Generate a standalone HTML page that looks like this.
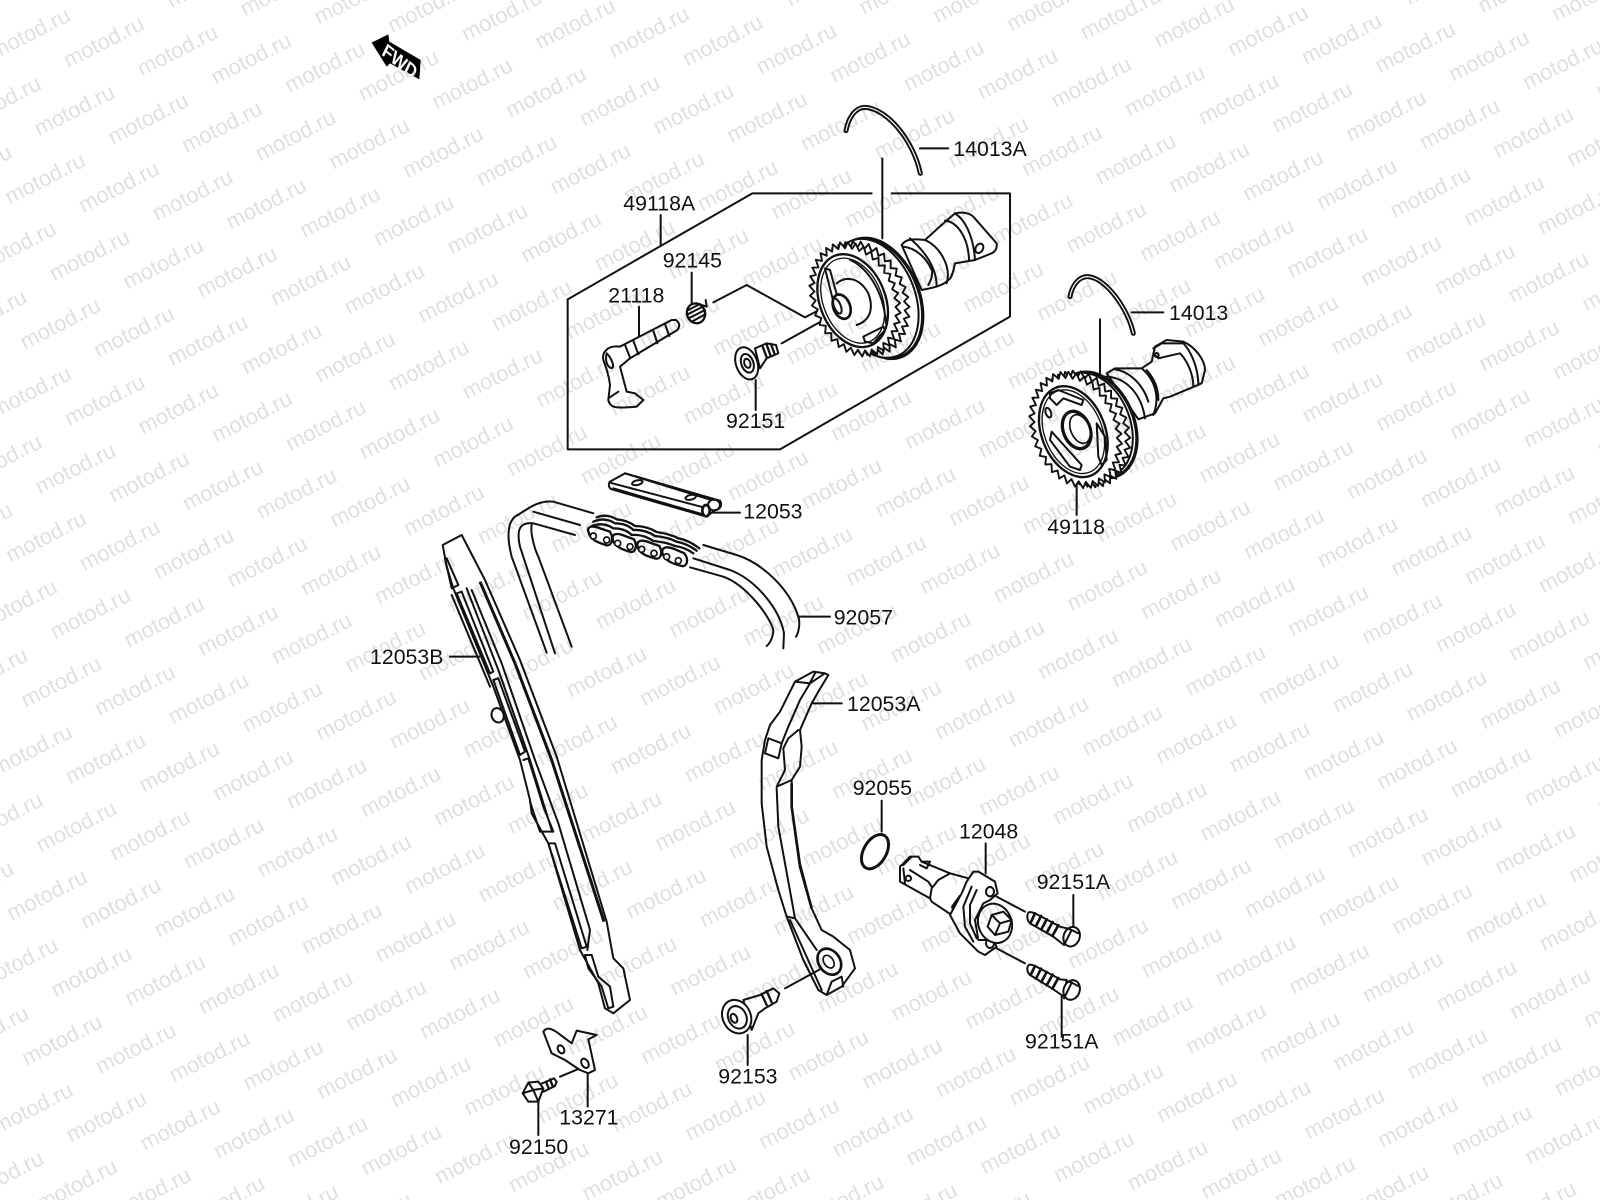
<!DOCTYPE html>
<html><head><meta charset="utf-8"><style>
html,body{margin:0;padding:0;background:#fff;width:1600px;height:1200px;overflow:hidden}
svg{display:block}
.l{fill:none;stroke:#111;stroke-width:6;stroke-linejoin:round;stroke-linecap:round}
.w{fill:#fff;stroke:#111;stroke-width:6;stroke-linejoin:round;stroke-linecap:round}
.t{font:21.3px "Liberation Sans",sans-serif;fill:#111}
.m{font:22px "Liberation Sans",sans-serif;fill:#e0e0e0}
.g{stroke:#111;stroke-width:1.9px;vector-effect:non-scaling-stroke;stroke-linejoin:round}
</style></head><body>
<svg width="1600" height="1200" viewBox="0 0 1600 1200" xmlns="http://www.w3.org/2000/svg">
<defs>
<polygon id="gw" class="g" points="100,0 89,7.8 98.5,17.4 86,23 94,34.2 80.7,37.6 86.6,50 72.9,51 76.6,64.3 62.9,62.9 64.3,76.6 51,72.9 50,86.6 37.6,80.7 34.2,94 23,86 17.4,98.5 7.8,89 0,100 -7.8,89 -17.4,98.5 -23,86 -34.2,94 -37.6,80.7 -50,86.6 -51,72.9 -64.3,76.6 -62.9,62.9 -76.6,64.3 -72.9,51 -86.6,50 -80.7,37.6 -94,34.2 -86,23 -98.5,17.4 -89,7.8 -100,0 -89,-7.8 -98.5,-17.4 -86,-23 -94,-34.2 -80.7,-37.6 -86.6,-50 -72.9,-51 -76.6,-64.3 -62.9,-62.9 -64.3,-76.6 -51,-72.9 -50,-86.6 -37.6,-80.7 -34.2,-94 -23,-86 -17.4,-98.5 -7.8,-89 0,-100 7.8,-89 17.4,-98.5 23,-86 34.2,-94 37.6,-80.7 50,-86.6 51,-72.9 64.3,-76.6 62.9,-62.9 76.6,-64.3 72.9,-51 86.6,-50 80.7,-37.6 94,-34.2 86,-23 98.5,-17.4 89,-7.8"/>
<g id="r">
<text class="m" transform="translate(-221.1,-25.1) rotate(-27)">motod.ru</text><text class="m" transform="translate(-147.4,-16.7) rotate(-27)">motod.ru</text><text class="m" transform="translate(-73.7,-8.4) rotate(-27)">motod.ru</text><text class="m" transform="rotate(-27)">motod.ru</text><text class="m" transform="translate(73.7,8.4) rotate(-27)">motod.ru</text><text class="m" transform="translate(147.4,16.7) rotate(-27)">motod.ru</text><text class="m" transform="translate(221.1,25.1) rotate(-27)">motod.ru</text><text class="m" transform="translate(294.8,33.4) rotate(-27)">motod.ru</text><text class="m" transform="translate(368.5,41.8) rotate(-27)">motod.ru</text><text class="m" transform="translate(442.2,50.1) rotate(-27)">motod.ru</text><text class="m" transform="translate(515.9,58.5) rotate(-27)">motod.ru</text><text class="m" transform="translate(589.6,66.8) rotate(-27)">motod.ru</text><text class="m" transform="translate(663.3,75.2) rotate(-27)">motod.ru</text><text class="m" transform="translate(737,83.5) rotate(-27)">motod.ru</text><text class="m" transform="translate(810.7,91.9) rotate(-27)">motod.ru</text><text class="m" transform="translate(884.4,100.2) rotate(-27)">motod.ru</text><text class="m" transform="translate(958.1,108.6) rotate(-27)">motod.ru</text><text class="m" transform="translate(1031.8,116.9) rotate(-27)">motod.ru</text><text class="m" transform="translate(1105.5,125.3) rotate(-27)">motod.ru</text><text class="m" transform="translate(1179.2,133.6) rotate(-27)">motod.ru</text><text class="m" transform="translate(1252.9,142) rotate(-27)">motod.ru</text><text class="m" transform="translate(1326.6,150.3) rotate(-27)">motod.ru</text><text class="m" transform="translate(1400.3,158.7) rotate(-27)">motod.ru</text><text class="m" transform="translate(1474,167) rotate(-27)">motod.ru</text><text class="m" transform="translate(1547.7,175.4) rotate(-27)">motod.ru</text><text class="m" transform="translate(1621.4,183.7) rotate(-27)">motod.ru</text><text class="m" transform="translate(1695.1,192.1) rotate(-27)">motod.ru</text><text class="m" transform="translate(1768.8,200.4) rotate(-27)">motod.ru</text><text class="m" transform="translate(1842.5,208.8) rotate(-27)">motod.ru</text><text class="m" transform="translate(1916.2,217.1) rotate(-27)">motod.ru</text><text class="m" transform="translate(1989.9,225.5) rotate(-27)">motod.ru</text><text class="m" transform="translate(2063.6,233.8) rotate(-27)">motod.ru</text>
</g></defs>
<rect width="1600" height="1200" fill="#fff"/>

<!-- FWD -->
<g transform="scale(.33333)">
<path d="M1115,128 L1165,103 L1168,125 L1262,180 L1258,238 L1170,190 L1160,200 Z" fill="#000"/>
<text transform="translate(1143,163) rotate(38) skewX(12)" font-family="Liberation Sans,sans-serif" font-size="54" font-weight="bold" fill="#fff">FWD</text>
</g>

<!-- Region A : camshaft set -->
<g transform="translate(540,90) scale(.33333)">
<path class="l" d="M995,310 L637,310 L83,628 L83,1078 L720,1078 L1410,680 L1410,310 L1055,310"/>
<path class="l" d="M1027,205V445M1140,175H1225M362,375V465M455,548V640M297,650V745M647,870V960M520,637L620,585L795,682L860,648M725,760L865,682"/>
<path d="M1141,250 C1120,150 1040,55 975,52 C945,52 925,85 918,122" fill="none" stroke="#111" stroke-width="15" stroke-linecap="round"/>
<path d="M1141,250 C1120,150 1040,55 975,52 C945,52 925,85 918,122" fill="none" stroke="#fff" stroke-width="3.5" stroke-linecap="round"/>
<!-- cam -->
<path class="w" d="M1085,465 C1095,450 1110,445 1155,450 L1210,400 L1245,370 C1270,365 1290,370 1300,380 L1370,460 C1372,475 1365,485 1355,490 L1305,510 L1245,520 C1240,545 1235,565 1225,570 C1210,585 1190,592 1145,600 Z"/>
<path class="l" d="M1155,450 C1200,470 1235,530 1220,580 M1110,445 C1150,480 1190,530 1190,590 M1090,470 C1130,475 1160,505 1175,540 M1245,370 C1270,385 1300,430 1305,510 M1215,392 C1250,395 1285,440 1287,510 M1175,535 C1180,560 1170,575 1165,585"/>
<ellipse class="l" cx="1318" cy="475" rx="11" ry="15" transform="rotate(30 1318 475)"/>
<!-- disc -->
<ellipse cx="1015" cy="625" rx="122" ry="188" transform="rotate(-22 1015 625)" fill="#fff" stroke="#111" stroke-width="10"/>
<ellipse cx="1003" cy="625" rx="122" ry="186" transform="rotate(-22 1003 625)" fill="#fff" stroke="#111" stroke-width="6"/>
<use href="#gw" fill="#fff" transform="translate(972,625) rotate(-22) scale(1.29,1.78) rotate(5)"/>
<!-- sprocket -->
<use href="#gw" fill="#fff" transform="translate(945,628) rotate(-22) scale(1.29,1.78)"/>
<ellipse cx="938" cy="632" rx="98" ry="145" transform="rotate(-22 938 632)" fill="#fff" stroke="#111" stroke-width="7"/>
<ellipse cx="938" cy="632" rx="88" ry="133" transform="rotate(-22 938 632)" fill="none" stroke="#111" stroke-width="4"/>
<path class="l" d="M855,535 L870,540 L895,630 L880,635 Z M970,740 L1030,710 L1035,720 L1000,760 L975,755 Z M930,510 C970,525 1030,590 1038,700 M890,580 C920,555 960,565 985,610 C1000,650 995,690 950,705"/>
<ellipse cx="905" cy="650" rx="25" ry="38" transform="rotate(-22 905 650)" fill="#fff" stroke="#111" stroke-width="8"/>
<ellipse class="l" cx="892" cy="648" rx="10" ry="24" transform="rotate(-22 892 648)"/>
<!-- 21118 -->
<path class="w" d="M408,690 L395,690 L240,770 C205,765 185,785 190,810 C195,825 205,845 210,885 L205,930 C210,955 230,955 290,950 L310,930 L285,910 L260,905 L240,830 L270,805 L412,720 C420,710 420,700 408,690Z"/>
<path class="l" d="M280,752 L295,793 M340,722 L352,760 M375,702 L388,738 M200,790 C215,805 225,830 215,835 C200,830 195,810 200,790 M235,905 L205,925 M255,765 L270,802"/>
<!-- 92145 spring -->
<ellipse cx="468" cy="670" rx="27" ry="30" transform="rotate(-20 468 670)" fill="#fff" stroke="#111" stroke-width="7"/>
<path class="l" d="M445,660 L480,642 M445,672 L492,648 M448,684 L495,660 M456,695 L497,672 M470,640 L500,650 L497,630"/>
<!-- 92151 bolt -->
<path class="w" d="M645,775 L680,760 L708,765 L715,790 L680,805 L660,835 Z"/>
<path class="l" d="M668,770 L680,802 M680,764 L692,798 M693,762 L703,790" style="stroke-width:7"/>
<ellipse class="w" cx="620" cy="820" rx="32" ry="50" transform="rotate(-20 620 820)"/>
<ellipse class="l" cx="622" cy="820" rx="18" ry="29" transform="rotate(-20 622 820)"/>
<ellipse class="l" cx="622" cy="820" rx="9" ry="14" transform="rotate(-20 622 820)"/>
</g>

<!-- Region B leaders / ring -->
<g transform="translate(1000,260) scale(.33333)">
<path d="M400,220 C385,150 320,55 265,50 C235,48 215,80 210,110" fill="none" stroke="#111" stroke-width="15" stroke-linecap="round"/>
<path d="M400,220 C385,150 320,55 265,50 C235,48 215,80 210,110" fill="none" stroke="#fff" stroke-width="3.5" stroke-linecap="round"/>
<path class="l" d="M300,178V340M395,157H490M230,670V765"/>
</g>
<!-- Region B camshaft -->
<g transform="translate(1030,330) scale(.33333)">
<path class="w" d="M230,130 L255,115 L335,115 L365,95 L375,50 L410,30 L460,35 C495,50 525,90 525,120 L515,160 L480,175 L420,200 L400,205 L375,250 L325,268 Z"/>
<path class="l" d="M335,115 C365,140 395,190 370,255 M350,120 C375,150 385,175 385,210 M225,140 C290,140 335,195 345,265 M255,118 C300,125 340,165 355,215 M370,55 L395,40 L460,40 C480,60 505,110 505,165 M370,70 L385,85 L450,70 C470,90 490,130 490,170"/>
<circle class="l" cx="380" cy="75" r="6"/>
<ellipse cx="200" cy="285" rx="112" ry="165" transform="rotate(-22 200 285)" fill="#fff" stroke="#111" stroke-width="10"/>
<ellipse cx="188" cy="285" rx="112" ry="163" transform="rotate(-22 188 285)" fill="#fff" stroke="#111" stroke-width="6"/>
<use href="#gw" fill="#fff" transform="translate(162,297) rotate(-22) scale(1.31,1.81) rotate(5)"/>
<use href="#gw" fill="#fff" transform="translate(137,300) rotate(-22) scale(1.31,1.81)"/>
<ellipse cx="130" cy="305" rx="95" ry="142" transform="rotate(-22 130 305)" fill="#fff" stroke="#111" stroke-width="7"/>
<ellipse cx="130" cy="305" rx="86" ry="131" transform="rotate(-22 130 305)" fill="none" stroke="#111" stroke-width="4"/>
<path class="l" d="M60,190 L85,180 L160,210 L155,225 L100,205 L80,225 L60,205 Z M65,305 L155,405 L150,420 L120,410 L60,330 Z M200,280 L225,320 L230,390 L215,405 L205,380 Z"/>
<ellipse class="l" cx="55" cy="248" rx="8" ry="15" transform="rotate(-20 55 248)"/>
<ellipse cx="140" cy="300" rx="40" ry="58" transform="rotate(-22 140 300)" fill="#fff" stroke="#111" stroke-width="10"/>
<ellipse cx="150" cy="297" rx="28" ry="45" transform="rotate(-22 150 297)" fill="#fff" stroke="#111" stroke-width="5"/>
</g>

<!-- Region C : chain, guide bar, guides -->
<g transform="translate(430,460) scale(.33333)">
<path class="w" d="M540,65 L585,40 L870,122 C880,140 865,150 855,150 L830,170 L545,88 C535,85 535,70 540,65Z"/>
<path class="l" d="M540,68 L820,142 M550,85 L825,165 M585,40 L860,125"/>
<ellipse class="l" cx="622" cy="68" rx="16" ry="7" transform="rotate(-12 622 68)"/>
<ellipse class="l" cx="782" cy="112" rx="16" ry="7" transform="rotate(-12 782 112)"/>
<ellipse class="w" cx="852" cy="135" rx="18" ry="16"/>
<ellipse cx="828" cy="152" rx="11" ry="17" fill="#fff" stroke="#111" stroke-width="8"/>
<path class="l" d="M840,158H930M1105,470H1200"/>
<path class="l" d="M490,160 L370,125 C320,120 290,150 255,170 C230,190 232,240 245,290 L350,578 M450,195 L310,155 M435,225 L310,190 C265,185 260,215 270,260 L375,580 M305,195 C300,220 315,270 325,290 L425,560"/>
<path class="l" d="M820,255 L920,285 C1000,310 1080,390 1105,470 C1112,490 1105,520 1098,530 M790,295 L900,330 C980,360 1050,450 1062,520 L1060,565 M780,322 L880,350 C950,375 1020,470 1030,510 C1030,530 1020,550 1010,558"/>
<!-- chain -->
<g fill="none" stroke="#111" stroke-width="7" stroke-linecap="round">
<path d="M500,172 Q530,160 560,178 Q590,180 615,198 Q650,198 680,216 Q720,222 745,235 Q775,240 808,265"/>
<path d="M490,185 Q525,170 555,190 Q590,190 610,210 Q645,208 675,228 Q715,232 740,245 Q770,250 800,272"/>
<path d="M485,198 Q520,185 550,205 Q585,205 605,225 Q640,222 670,243 Q710,247 735,258 Q765,262 790,280"/>
</g>
<g fill="#fff" stroke="#111" stroke-width="7" stroke-linejoin="round">
<path d="M475,215 C470,198 488,196 510,205 L540,215 C552,235 546,258 530,256 C505,248 480,240 475,215Z"/>
<path d="M548,238 C546,220 562,218 585,228 L612,238 C622,255 618,278 602,276 C580,270 552,260 548,238Z"/>
<path d="M622,258 C620,240 636,238 660,248 L688,258 C698,275 694,298 678,296 C656,290 626,282 622,258Z"/>
<path d="M697,278 C695,260 711,258 735,268 L763,280 C777,297 772,322 755,318 C732,312 701,302 697,278Z"/>
</g>
<g fill="#fff" stroke="#111" stroke-width="5">
<circle cx="490" cy="228" r="9"/><circle cx="530" cy="240" r="9"/><circle cx="563" cy="250" r="9"/><circle cx="600" cy="260" r="9"/><circle cx="635" cy="268" r="9"/><circle cx="672" cy="280" r="9"/><circle cx="710" cy="290" r="9"/><circle cx="745" cy="302" r="9"/>
</g>
<!-- 12053B whole -->
<path class="w" d="M38,255 L95,225 L165,360 L270,600 L380,890 L530,1385 L550,1495 L580,1525 L600,1620 L550,1660 L525,1645 L505,1570 L450,1470 L355,1150 L305,1060 L300,1020 L270,900 L190,680 L70,385 L50,320 Z"/>
<path class="l" d="M45,295 L65,385 L85,375 L50,295 M65,405 L180,680 M80,400 L95,395 L190,635 L180,640 Z M110,385 L205,630 L300,900 L365,1110 M125,390 L215,610 L315,900 L385,1090 L480,1410 L472,1470 M190,660 L205,655 L285,875 L270,885 Z M280,900 L295,895 L340,1040 L370,1115 L330,1115 L300,1025 M355,1150 L375,1150 L470,1460 L455,1465 Z M465,1485 L485,1485 L505,1550 L540,1580 L550,1640 L535,1645 L515,1580 L475,1525 Z M148,590 H60"/>
<path d="M150,365 L255,610 L365,900 L522,1385" fill="none" stroke="#111" stroke-width="9"/>
<ellipse cx="203" cy="766" rx="18" ry="22" transform="rotate(-20 203 766)" fill="#fff" stroke="#111" stroke-width="6"/>
</g>

<!-- 12053A whole -->
<g transform="translate(750,660) scale(.33333)">
<path class="w" d="M135,65 L190,35 L225,40 L235,45 L205,95 L185,130 L150,210 L155,260 L150,320 L125,360 L125,440 L150,610 L185,745 L215,810 L250,830 L300,870 L315,925 L275,980 L230,1005 L205,990 L160,900 L110,770 L85,690 L50,560 L35,430 L35,300 L45,240 L60,195 L90,155 Z"/>
<path class="l" d="M135,65 L180,70 L225,40 M180,68 L195,40 M180,70 L150,120 L115,200 L95,250 M190,130 H275 M145,210 L115,235 L100,265 L105,330 L80,380 L125,360 M80,385 L85,500 L135,775 L110,770 M135,775 L200,870 M120,780 L215,990 M230,1005 L245,965 L275,950 L280,980"/>
<path class="w" d="M55,235 L95,250 L85,295 L45,280 Z"/>
<path d="M125,370 L125,440 L150,620 L185,745" fill="none" stroke="#111" stroke-width="8"/>
<ellipse cx="238" cy="905" rx="32" ry="42" transform="rotate(-35 238 905)" fill="#fff" stroke="#111" stroke-width="8"/>
<ellipse cx="236" cy="905" rx="14" ry="21" transform="rotate(-35 236 905)" fill="#fff" stroke="#111" stroke-width="5"/>
<path class="l" d="M105,985 L215,925"/>
</g>

<!-- Region D -->
<g transform="translate(480,760) scale(.33333)">
<path class="l" d="M803,825V915 M240,950L300,925 M175,1020V1125 M323,940V1040"/>
<path class="w" d="M790,720 L840,705 L880,685 L898,700 L890,725 L855,745 L835,760 L815,810 Z"/>
<path class="l" d="M845,702 L860,735 M860,693 L875,727" style="stroke-width:7"/>
<ellipse class="w" cx="770" cy="770" rx="42" ry="52" transform="rotate(-25 770 770)"/>
<ellipse class="l" cx="772" cy="772" rx="27" ry="35" transform="rotate(-25 772 772)"/>
<ellipse class="l" cx="762" cy="775" rx="9" ry="14" transform="rotate(-25 762 775)"/>
<path class="w" d="M190,815 C200,800 215,805 235,820 L275,850 L290,812 L350,825 L325,838 L345,930 L325,940 L300,930 L255,900 L215,880 Z"/>
<ellipse class="l" cx="243" cy="868" rx="9" ry="13" transform="rotate(-30 243 868)"/>
<ellipse class="l" cx="315" cy="910" rx="10" ry="15" transform="rotate(-30 315 910)"/>
<path class="w" d="M175,975 L222,955 L230,965 L225,978 L190,995 Z"/>
<path class="l" d="M198,965 L206,985 M210,958 L218,978" style="stroke-width:7"/>
<path class="w" d="M145,968 L175,965 L190,985 L175,1025 L145,1025 L128,1000 Z"/>
<path class="l" d="M145,968 L160,990 L175,1025 M128,1000 L160,990 L190,985"/>
</g>

<!-- Region E -->
<g transform="translate(840,780) scale(.33333)">
<path class="l" d="M125,62V155 M700,345V440 M665,650V770"/>
<ellipse cx="105" cy="215" rx="34" ry="56" transform="rotate(30 105 215)" fill="none" stroke="#111" stroke-width="9"/>
<!-- bolts -->
<path class="w" d="M566,397 C575,393 590,402 660,440 L680,445 L672,495 L640,470 L570,430 C560,420 560,405 566,397Z"/>
<path class="l" d="M585,400 L572,428 M603,408 L588,438 M620,418 L604,448 M638,426 L620,458 M655,436 L637,468" style="stroke-width:8"/>
<ellipse class="w" cx="695" cy="470" rx="24" ry="30" transform="rotate(20 695 470)"/>
<path class="l" d="M672,495 L695,450 L715,460 M695,450 L680,445"/>
<path class="w" d="M566,555 C575,550 590,560 660,598 L680,600 L672,650 L640,628 L570,585 C560,575 560,562 566,555Z"/>
<path class="l" d="M585,558 L572,585 M603,566 L588,596 M620,576 L604,606 M638,584 L620,616 M655,594 L637,626" style="stroke-width:8"/>
<ellipse class="w" cx="695" cy="630" rx="24" ry="30" transform="rotate(20 695 630)"/>
<path class="l" d="M672,655 L695,608 L718,620 M695,608 L680,603"/>
</g>

<!-- tensioner -->
<g transform="translate(895,840) scale(.33333)">
<path class="l" d="M272,10V100 M305,170L390,215 M305,325L390,370"/>
<path class="w" d="M15,80 L45,50 L70,50 L80,65 L165,100 L125,125 L105,175 L15,125 Z"/>
<path class="l" d="M25,85 L30,130 M25,75 L50,50 M45,90 L100,125 L110,140 M80,65 L105,65 L95,85 L75,75"/>
<circle class="l" cx="40" cy="115" r="8"/>
<path class="w" d="M105,175 L110,145 L130,120 L165,100 L220,115 L200,170 L170,225 L110,185 Z"/>
<path d="M195,165 L170,200 L180,235 L190,225 L178,200Z" fill="#111" stroke="#111" stroke-width="4"/>
<path class="w" d="M235,95 L250,95 L300,125 L308,160 L285,180 L265,190 L240,240 L250,300 L295,300 L305,320 L270,345 L250,335 L195,280 L165,225 L200,160 L215,125 Z"/>
<path class="l" d="M230,140 L205,200 L210,260 L235,305 M245,150 L225,195 L225,250 L245,295"/>
<ellipse class="l" cx="285" cy="155" rx="12" ry="14"/>
<ellipse class="l" cx="285" cy="310" rx="12" ry="14"/>
<ellipse class="w" cx="300" cy="250" rx="50" ry="60" transform="rotate(-20 300 250)"/>
<path class="w" d="M290,225 L325,215 L350,240 L340,275 L300,285 L278,260 Z"/>
<path class="l" d="M290,225 L315,250 L350,240 M315,250 L300,285"/>
</g>

<!-- labels -->
<text class="t" x="953.3" y="156">14013A</text>
<text class="t" x="623.3" y="210.7">49118A</text>
<text class="t" x="662.7" y="267.3">92145</text>
<text class="t" x="608.3" y="302.3">21118</text>
<text class="t" x="726" y="428">92151</text>
<text class="t" x="1169" y="320">14013</text>
<text class="t" x="1047.3" y="534">49118</text>
<text class="t" x="743.3" y="518.7">12053</text>
<text class="t" x="833.7" y="624.5">92057</text>
<text class="t" x="370" y="664">12053B</text>
<text class="t" x="847" y="711">12053A</text>
<text class="t" x="852.7" y="795">92055</text>
<text class="t" x="959" y="838.3">12048</text>
<text class="t" x="1036.7" y="889">92151A</text>
<text class="t" x="1025" y="1048.3">92151A</text>
<text class="t" x="718.3" y="1083.3">92153</text>
<text class="t" x="559.3" y="1124.7">13271</text>
<text class="t" x="509" y="1154">92150</text>

<!-- watermark -->
<g style="mix-blend-mode:multiply" transform="translate(5,3)">
<use href="#r" x="180.5" y="-208.2"/><use href="#r" x="151.2" y="-139.9"/><use href="#r" x="121.9" y="-71.6"/><use href="#r" x="92.6" y="-3.3"/><use href="#r" x="63.3" y="65"/><use href="#r" x="34" y="133.3"/><use href="#r" x="4.7" y="201.6"/><use href="#r" x="-24.6" y="269.9"/><use href="#r" x="-53.9" y="338.2"/><use href="#r" x="-83.2" y="406.5"/><use href="#r" x="-112.5" y="474.8"/><use href="#r" x="-141.8" y="543.1"/><use href="#r" x="-171.1" y="611.4"/><use href="#r" x="-200.4" y="679.7"/><use href="#r" x="-229.7" y="748"/><use href="#r" x="-259" y="816.3"/><use href="#r" x="-288.3" y="884.6"/><use href="#r" x="-317.6" y="952.9"/><use href="#r" x="-346.9" y="1021.2"/><use href="#r" x="-376.2" y="1089.5"/><use href="#r" x="-405.5" y="1157.8"/>
</g>
</svg>
</body></html>
